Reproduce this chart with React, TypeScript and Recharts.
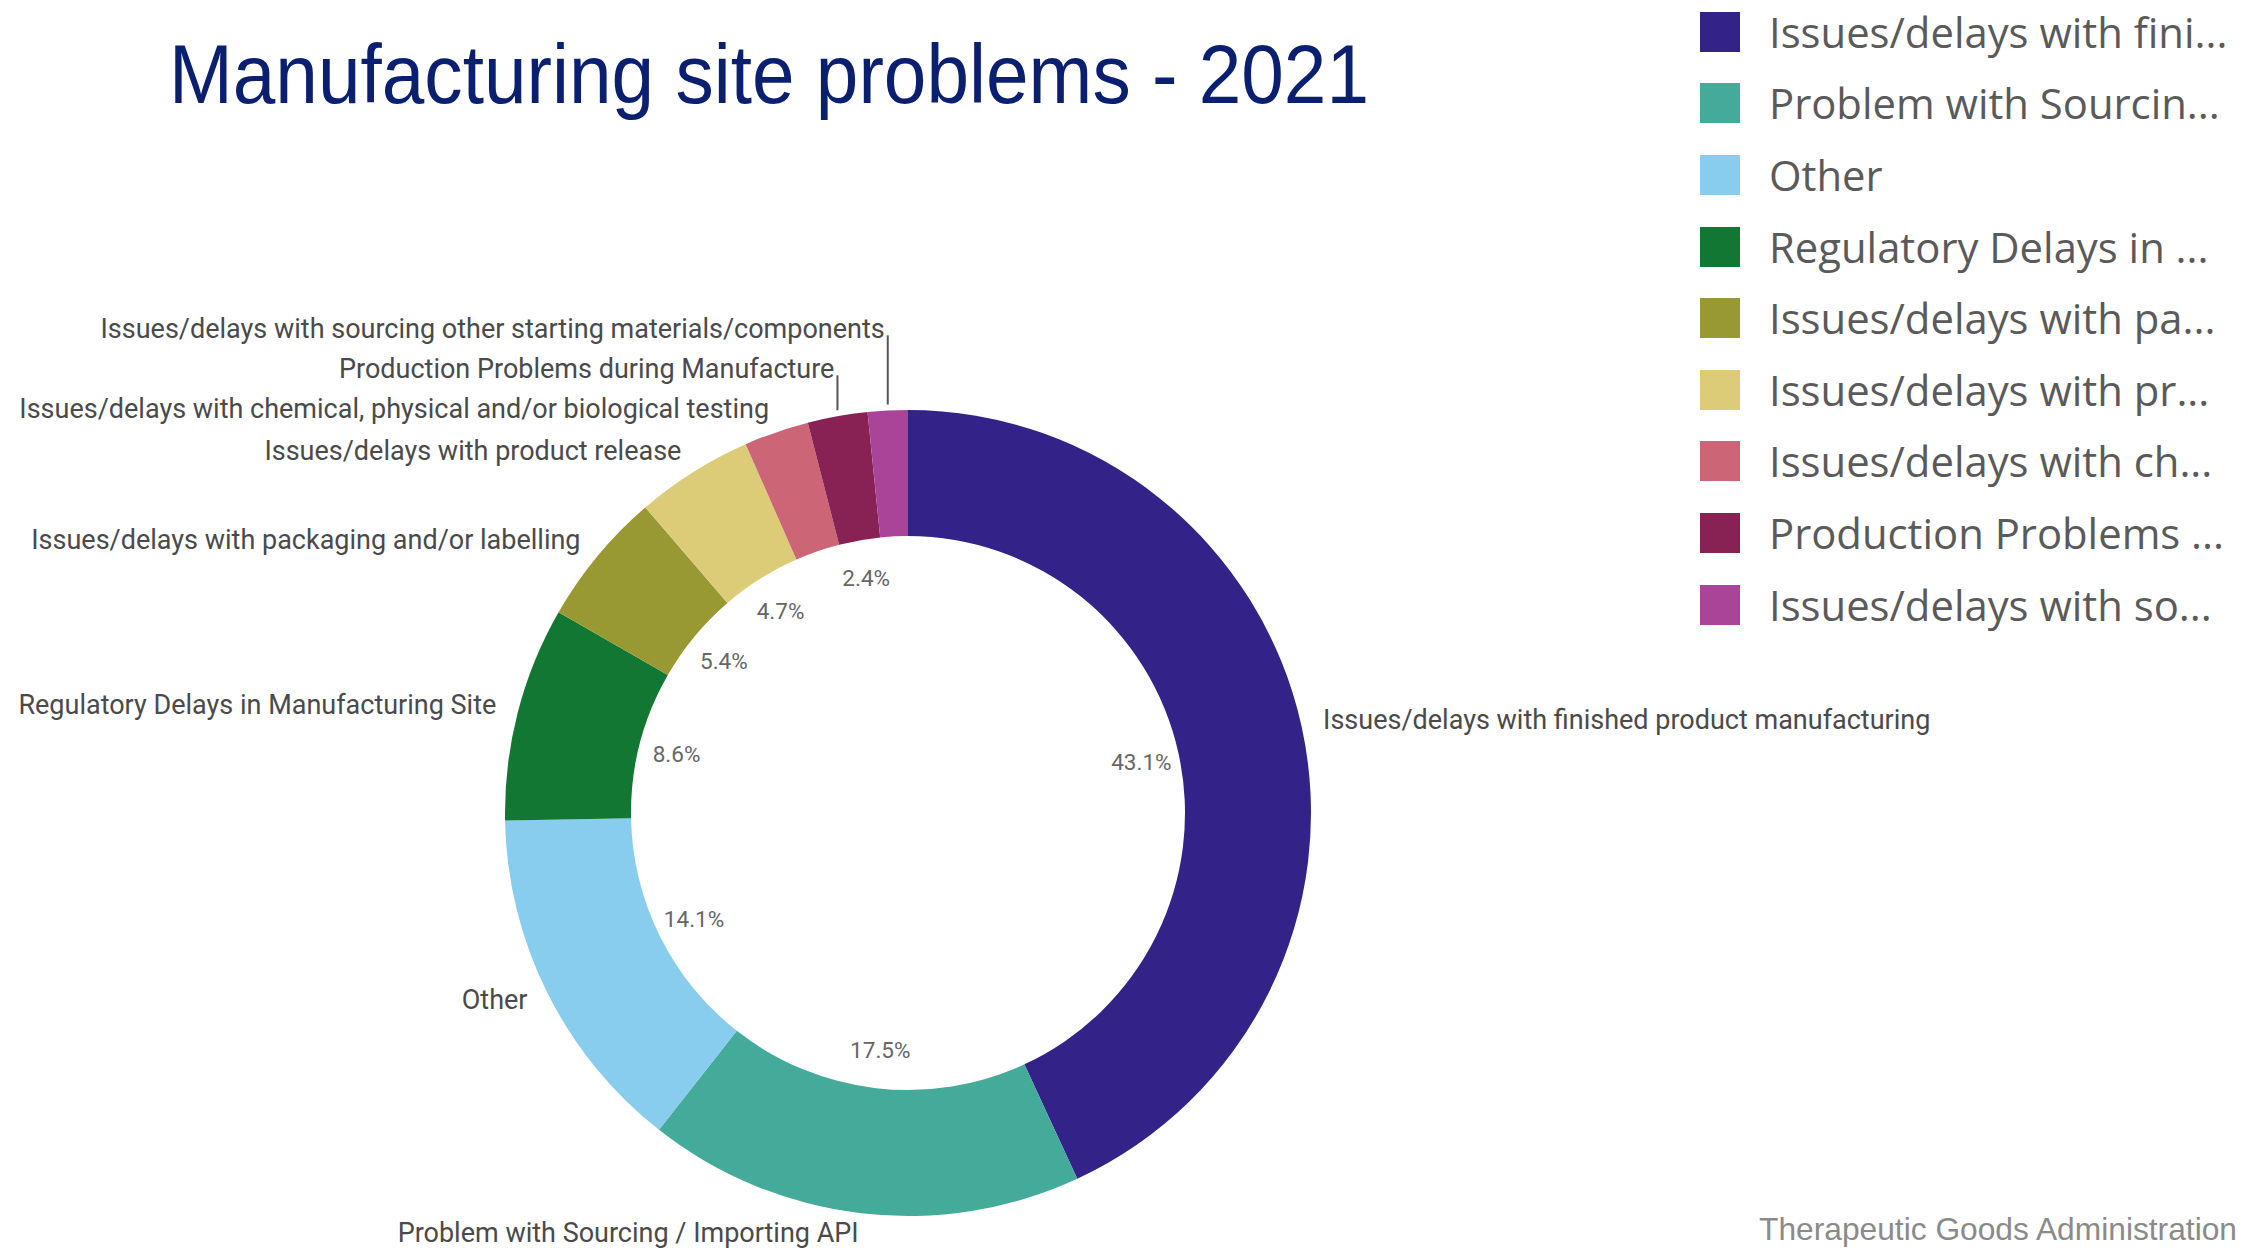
import React from 'react';
import { PieChart, Pie, Cell, Legend } from 'recharts';

const categories = [
  'Issues/delays with finished product manufacturing',
  'Problem with Sourcing / Importing API',
  'Other',
  'Regulatory Delays in Manufacturing Site',
  'Issues/delays with packaging and/or labelling',
  'Issues/delays with product release',
  'Issues/delays with chemical, physical and/or biological testing',
  'Production Problems during Manufacture',
  'Issues/delays with sourcing other starting materials/components',
];
const legendLabels = [
  'Issues/delays with fini...',
  'Problem with Sourcin...',
  'Other',
  'Regulatory Delays in ...',
  'Issues/delays with pa...',
  'Issues/delays with pr...',
  'Issues/delays with ch...',
  'Production Problems ...',
  'Issues/delays with so...',
];
const shares = [43.1, 17.5, 14.1, 8.6, 5.4, 4.7, 2.6, 2.4, 1.6];
const colors = ['#332288', '#44aa99', '#88ccee', '#117733', '#999933', '#ddcc77', '#cc6677', '#882255', '#aa4499'];

const data = categories.map((name, i) => ({ name, value: shares[i] }));

const W = 2246;
const H = 1249;
const CX = 908;
const CY = 813;
const OUTER = 403;
const INNER = 277;
const LABEL_GAP = 22;
const STACK = 40;
const PCT_INSET = 38;
const RADIAN = Math.PI / 180;

type Item = {
  x: number; y: number; ox: number; oy: number; px: number; py: number;
  left: boolean; sin: number; pushed: boolean; showPct: boolean;
};

function computeLayout(cx: number, cy: number, inner: number, outer: number): Item[] {
  const total = shares.reduce((a, b) => a + b, 0);
  let cum = 0;
  const items: Item[] = shares.map((v) => {
    const mid = 90 - (360 * (cum + v / 2)) / total;
    cum += v;
    const rad = -mid * RADIAN;
    const cos = Math.cos(rad);
    const sin = Math.sin(rad);
    const r = outer + LABEL_GAP;
    const pr = inner - PCT_INSET;
    return {
      x: cx + r * cos, y: cy + r * sin,
      ox: cx + outer * cos, oy: cy + outer * sin,
      px: cx + pr * cos, py: cy + pr * sin,
      left: cos < 0, sin, pushed: false, showPct: true,
    };
  });
  for (let k = 1; k < items.length; k++) {
    const a = items[k];
    const p = items[k - 1];
    if (a.left && p.left && a.sin < 0) {
      const limit = p.y - STACK;
      if (a.y > limit) {
        a.y = limit;
        a.x = a.ox;
        a.pushed = true;
      }
    }
  }
  let last: Item | null = null;
  for (const it of items) {
    if (last && Math.abs(it.px - last.px) < 56 && Math.abs(it.py - last.py) < 26) {
      it.showPct = false;
    } else {
      last = it;
    }
  }
  return items;
}

const renderLabel = (props: any) => {
  const cx = typeof props.cx === 'number' ? props.cx : CX;
  const cy = typeof props.cy === 'number' ? props.cy : CY;
  const inner = typeof props.innerRadius === 'number' ? props.innerRadius : INNER;
  const outer = typeof props.outerRadius === 'number' ? props.outerRadius : OUTER;
  const index = props.index;
  const it = computeLayout(cx, cy, inner, outer)[index];
  const anchor = it.left ? 'end' : 'start';
  return (
    <g key={`lbl-${index}`}>
      {it.pushed && (
        <line x1={it.ox} y1={it.y + 4} x2={it.ox} y2={it.oy - 6} stroke="#555" strokeWidth={2} />
      )}
      <text
        x={it.pushed ? it.x - 3 : it.x}
        y={it.y - 2}
        textAnchor={anchor}
        dominantBaseline="central"
        fontFamily="Roboto, 'Liberation Sans', sans-serif"
        fontSize={27}
        fill="#4a4a4a"
      >
        {categories[index]}
      </text>
      {it.showPct && (
        <text
          x={it.px}
          y={it.py}
          textAnchor="middle"
          dominantBaseline="central"
          fontFamily="Roboto, 'Liberation Sans', sans-serif"
          fontSize={22.5}
          fill="#666"
        >
          {`${shares[index].toFixed(1)}%`}
        </text>
      )}
    </g>
  );
};

const renderLegend = () => (
  <div style={{ display: 'flex', flexDirection: 'column' }}>
    {legendLabels.map((l, i) => (
      <div key={i} style={{ height: 71.6, display: 'flex', alignItems: 'center' }}>
        <span style={{ display: 'inline-block', width: 40, height: 40, background: colors[i], marginRight: 29, flex: 'none' }} />
        <span style={{ fontFamily: "'Open Sans', sans-serif", fontSize: 41.8, color: '#5a5a5a', whiteSpace: 'nowrap', lineHeight: 1 }}>{l}</span>
      </div>
    ))}
  </div>
);

export default function App() {
  return (
    <div style={{ position: 'absolute', left: 0, top: 0, width: W, height: H, background: '#fff', overflow: 'hidden' }}>
      <PieChart width={W} height={H} margin={{ top: 0, right: 0, bottom: 0, left: 0 }}>
        <Pie
          data={data}
          dataKey="value"
          nameKey="name"
          cx={CX}
          cy={CY}
          innerRadius={INNER}
          outerRadius={OUTER}
          startAngle={90}
          endAngle={-270}
          stroke="none"
          label={renderLabel}
          labelLine={false}
          isAnimationActive={false}
        >
          {data.map((d, i) => (
            <Cell key={d.name} fill={colors[i]} />
          ))}
        </Pie>
        <Legend
          content={renderLegend}
          layout="vertical"
          align="right"
          verticalAlign="top"
          wrapperStyle={{ position: 'absolute', left: 1700, top: -4, width: 546, right: 'auto' }}
        />
      </PieChart>
      <svg width={W} height={H} style={{ position: 'absolute', left: 0, top: 0, pointerEvents: 'none' }}>
        <text
          x={169}
          y={103}
          fontFamily="'Liberation Sans', Arial, sans-serif"
          fontSize={84}
          fill="#0a1f70"
          textLength={1200}
          lengthAdjust="spacingAndGlyphs"
        >
          Manufacturing site problems - 2021
        </text>
        <text
          x={1759}
          y={1240}
          fontFamily="'Liberation Sans', Arial, sans-serif"
          fontSize={31.6}
          fill="#8a8a8a"
          textLength={478}
          lengthAdjust="spacingAndGlyphs"
        >
          Therapeutic Goods Administration
        </text>
      </svg>
    </div>
  );
}
